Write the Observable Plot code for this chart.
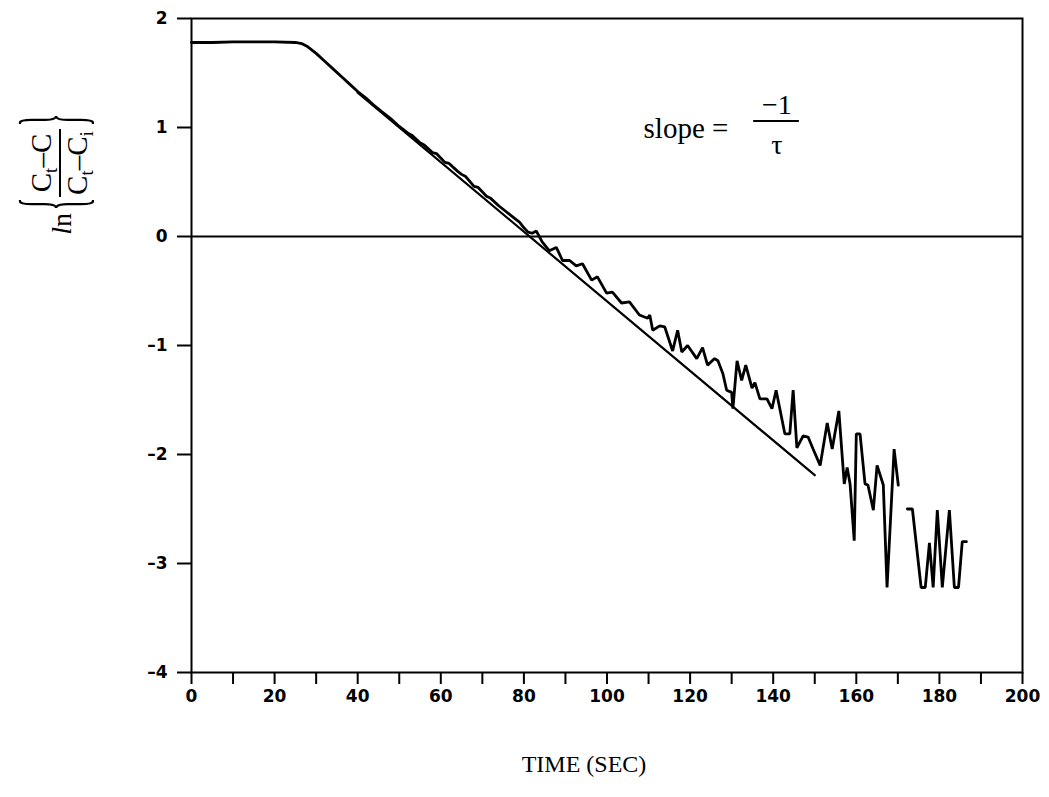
<!DOCTYPE html>
<html>
<head>
<meta charset="utf-8">
<script src="https://cdn.jsdelivr.net/npm/d3@7"></script>
<script src="https://cdn.jsdelivr.net/npm/@observablehq/plot@0.6"></script>
<style>
  html, body { margin: 0; padding: 0; background: #fff; }
</style>
</head>
<body>
<div id="chart"></div>
<script>
// Measured series: time (s) and ln{(Ct-C)/(Ct-Ci)}; null marks the gap in the record
const time = [0, 5, 10, 15, 20, 25, 26.5, 28, 30, 32, 34, 36, 38, 40, 42, 44, 46, 48, 50, 52, 53, 55, 56, 58, 59, 61, 62, 64, 65, 66, 68, 69, 71, 72, 74, 75, 77, 78, 79, 80, 81, 82, 83, 84.4, 86.1, 87.8, 89.3, 91, 92.6, 94.1, 96.3, 97.7, 99.9, 101.3, 103.5, 105.4, 107.8, 109.8, 110.3, 111, 112.7, 113.9, 115.8, 117, 118, 119.4, 121.6, 123, 124.2, 125.9, 126.7, 127.9, 128.8, 130, 130.3, 131.3, 132.4, 133.4, 134.9, 135.6, 136.8, 138.5, 139.7, 140.7, 142.8, 144, 144.8, 145.7, 147.2, 148.4, 149.6, 151.3, 153, 154.2, 155.8, 157.1, 157.8, 158.5, 159.5, 160, 160.9, 162.1, 162.8, 164.1, 165, 166.5, 167.4, 169.1, 170.1, 171, 172.3, 173.5, 175.6, 176.6, 177.6, 178.5, 179.5, 180.7, 182.4, 183.6, 184.6, 185.5, 186.5];
const lnRatio = [1.78, 1.78, 1.785, 1.785, 1.785, 1.78, 1.77, 1.74, 1.68, 1.61, 1.54, 1.47, 1.40, 1.33, 1.27, 1.20, 1.14, 1.08, 1.01, 0.95, 0.93, 0.86, 0.84, 0.77, 0.76, 0.68, 0.67, 0.60, 0.57, 0.55, 0.46, 0.45, 0.37, 0.35, 0.28, 0.25, 0.19, 0.16, 0.13, 0.08, 0.04, 0.03, 0.05, -0.05, -0.13, -0.10, -0.22, -0.22, -0.27, -0.25, -0.40, -0.37, -0.52, -0.51, -0.61, -0.60, -0.72, -0.75, -0.72, -0.86, -0.82, -0.83, -1.05, -0.86, -1.06, -1.00, -1.12, -1.02, -1.18, -1.12, -1.14, -1.26, -1.41, -1.43, -1.58, -1.14, -1.32, -1.18, -1.39, -1.34, -1.49, -1.49, -1.58, -1.41, -1.81, -1.81, -1.41, -1.94, -1.83, -1.84, -1.95, -2.10, -1.71, -1.95, -1.60, -2.27, -2.12, -2.27, -2.79, -1.81, -1.81, -2.27, -2.28, -2.51, -2.10, -2.28, -3.22, -1.95, -2.28, null, -2.50, -2.50, -3.22, -3.22, -2.81, -3.22, -2.51, -3.22, -2.51, -3.22, -3.22, -2.80, -2.80];

// Fitted straight line (slope = -1/tau)
const fitTime = [40, 150];
const fitLn = [1.32, -2.19];

// Axis ticks
const xTicks = d3.range(0, 201, 10);
const xLabelEvery = 20;
const yTicks = [-4, -3, -2, -1, 0, 1, 2];

const series = time.map((t, i) => ({t, v: lnRatio[i]}));
const fit = fitTime.map((t, i) => ({t, v: fitLn[i]}));

const serif = "'Liberation Serif', 'Times New Roman', serif";
const tickFont = "'DejaVu Sans', 'Liberation Sans', Arial, sans-serif";

const chart = Plot.plot({
  width: 1049,
  height: 797,
  marginTop: 18,
  marginBottom: 125,
  marginLeft: 191,
  marginRight: 27,
  style: {fontFamily: tickFont, background: "#fff", color: "#000"},
  x: {domain: [0, 200]},
  y: {domain: [-4, 2]},
  marks: [
    Plot.frame({stroke: "#000", strokeWidth: 2}),
    Plot.ruleY([0], {stroke: "#000", strokeWidth: 2}),
    Plot.axisX({ticks: xTicks, tickSize: 12, tickPadding: 5, strokeWidth: 2,
      tickFormat: d => d % xLabelEvery === 0 ? String(d) : "",
      fontFamily: tickFont, fontSize: 17, fontWeight: "bold", label: null}),
    Plot.axisY({ticks: yTicks, tickSize: 14, tickPadding: 10, strokeWidth: 2,
      tickFormat: d => (d < 0 ? "\u2013" + Math.abs(d) : String(d)),
      fontFamily: tickFont, fontSize: 17, fontWeight: "bold", label: null}),
    Plot.line(fit, {x: "t", y: "v", stroke: "#000", strokeWidth: 2.2}),
    Plot.line(series, {x: "t", y: "v", stroke: "#000", strokeWidth: 2.8, strokeLinejoin: "miter", curve: "linear"}),
    Plot.text(["TIME (SEC)"], {frameAnchor: "bottom", dy: 99, dx: -23,
      fontFamily: serif, fontSize: 24}),
    Plot.text(["slope ="], {x: 108.8, y: 0.99, textAnchor: "start",
      fontFamily: serif, fontSize: 29}),
    Plot.text(["\u22121"], {x: 140.9, y: 1.21, fontFamily: serif, fontSize: 28}),
    Plot.ruleY([1.06], {x1: 135.3, x2: 146.3, stroke: "#000", strokeWidth: 2}),
    Plot.text(["\u03c4"], {x: 140.9, y: 0.84, fontFamily: serif, fontSize: 28})
  ]
});

// Rotated y-axis label: ln{ (Ct−C) / (Ct−Ci) }
const svg = d3.select(chart);
const g = svg.append("g").attr("transform", "translate(63,163) rotate(-90)")
  .attr("font-family", serif).attr("fill", "#000");

const ln = g.append("text").attr("x", -50).attr("y", 8).attr("text-anchor", "end").attr("font-size", 28);
ln.append("tspan").attr("font-style", "italic").text("l");
ln.append("tspan").text("n");

g.append("g").attr("transform", "translate(-41,-3) scale(0.3,1)")
  .append("text").attr("text-anchor", "middle").attr("dy", "0.24em").attr("font-size", 90).text("{");
g.append("g").attr("transform", "translate(43,-3) scale(0.3,1)")
  .append("text").attr("text-anchor", "middle").attr("dy", "0.24em").attr("font-size", 90).text("}");

const num = g.append("text").attr("x", 0).attr("y", -12).attr("text-anchor", "middle").attr("font-size", 29);
num.append("tspan").text("C");
num.append("tspan").attr("font-size", 19).attr("dy", 6).text("t");
num.append("tspan").attr("dy", -6).text("\u2013C");

g.append("line").attr("x1", -34).attr("x2", 34).attr("y1", -3).attr("y2", -3)
  .attr("stroke", "#000").attr("stroke-width", 2);

const den = g.append("text").attr("x", 0).attr("y", 24).attr("text-anchor", "middle").attr("font-size", 29);
den.append("tspan").text("C");
den.append("tspan").attr("font-size", 19).attr("dy", 6).text("t");
den.append("tspan").attr("dy", -6).text("\u2013C");
den.append("tspan").attr("font-size", 19).attr("dy", 6).text("i");

document.getElementById("chart").appendChild(chart);
</script>
</body>
</html>
